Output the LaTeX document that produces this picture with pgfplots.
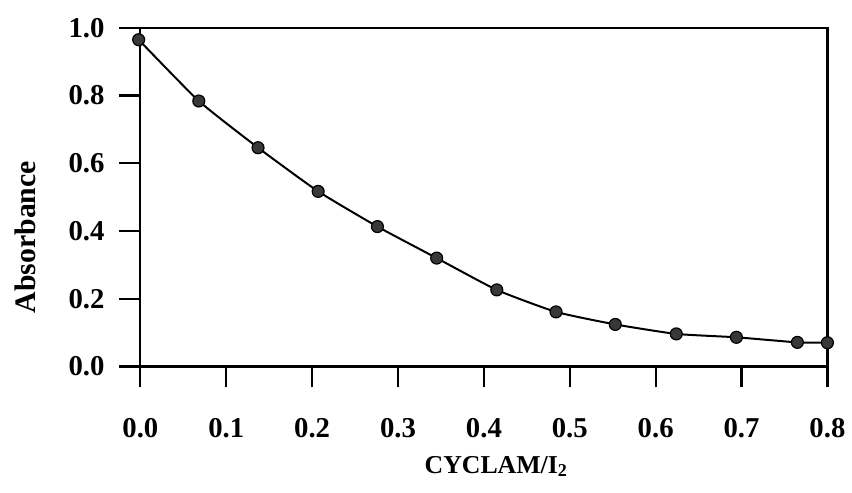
\documentclass[border=0pt]{standalone}
\usepackage{fontspec}
\setmainfont{Liberation Serif}
\usepackage{pgfplots}
\pgfplotsset{compat=1.18}

% Absorbance against the CYCLAM/I2 ratio
\pgfplotstableread{
ratio  absorb
-0.002 0.965
0.068  0.784
0.137  0.646
0.207  0.517
0.276  0.413
0.345  0.320
0.415  0.226
0.484  0.161
0.553  0.124
0.624  0.096
0.694  0.086
0.765  0.071
0.800  0.070
}\titration

\begin{document}
\begin{tikzpicture}
\begin{axis}[
  scale only axis,
  width=345bp, height=170bp,
  xmin=0, xmax=0.8, ymin=0, ymax=1.0,
  xtick={0,0.1,0.2,0.3,0.4,0.5,0.6,0.7,0.8},
  ytick={0,0.2,0.4,0.6,0.8,1.0},
  xtick pos=bottom, ytick pos=left,
  tick align=outside,
  major tick length=10.5bp,
  axis line style={line width=1.1bp},
  every tick/.style={line width=1.1bp, black},
  /pgf/number format/assume math mode=true,
  /pgf/number format/fixed,
  /pgf/number format/fixed zerofill,
  /pgf/number format/precision=1,
  tick label style={font=\fontsize{14.5}{17}\selectfont\bfseries},
  xticklabel style={yshift=-12bp},
  yticklabel style={xshift=-4bp},
  xlabel={CYCLAM/I\textsubscript{2}},
  ylabel={Absorbance},
  xlabel style={font=\fontsize{13}{15}\selectfont\bfseries,
    at={(axis description cs:0.518,-0.315)}, anchor=base},
  ylabel style={font=\fontsize{15}{18}\selectfont\bfseries,
    at={(axis description cs:-0.152,0.382)}, anchor=base, rotate=0},
  clip=false,
]
\addplot[black, line width=1bp, smooth, tension=0.3] table[x=ratio, y=absorb] {\titration};
\addplot[only marks, mark=*, mark size=3bp,
  mark options={fill=black!78, draw=black, line width=0.6bp}]
  table[x=ratio, y=absorb] {\titration};
\end{axis}
\path ([xshift=-70.5bp, yshift=-63.5bp]current axis.south west)
  rectangle ([xshift=10.5bp, yshift=14bp]current axis.north east);
\end{tikzpicture}
\end{document}
